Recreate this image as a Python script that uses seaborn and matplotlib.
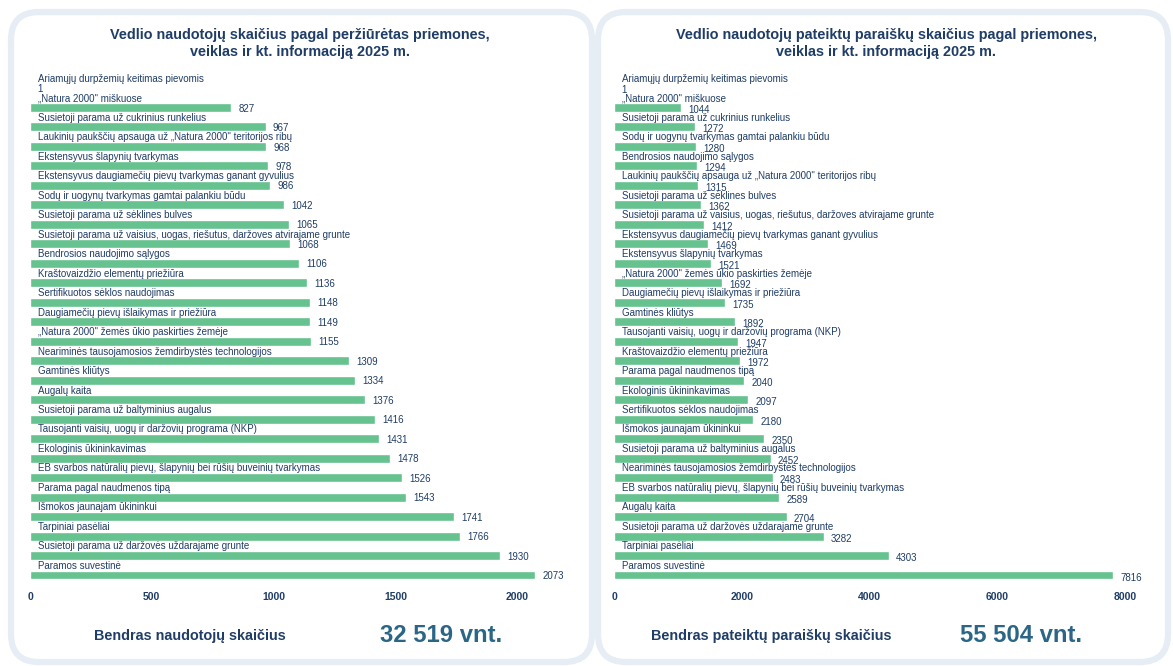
import matplotlib
matplotlib.use("Agg")
import matplotlib.pyplot as plt
from matplotlib.patches import FancyBboxPatch
import seaborn as sns
import pandas as pd

# --- data ---
left_title = "Vedlio naudotojų skaičius pagal peržiūrėtas priemones,\nveiklas ir kt. informaciją 2025 m."
left_categories = [
    "Ariamųjų durpžemių keitimas pievomis",
    "„Natura 2000\" miškuose",
    "Susietoji parama už cukrinius runkelius",
    "Laukinių paukščių apsauga už „Natura 2000\" teritorijos ribų",
    "Ekstensyvus šlapynių tvarkymas",
    "Ekstensyvus daugiamečių pievų tvarkymas ganant gyvulius",
    "Sodų ir uogynų tvarkymas gamtai palankiu būdu",
    "Susietoji parama už sėklines bulves",
    "Susietoji parama už vaisius, uogas, riešutus, daržoves atvirajame grunte",
    "Bendrosios naudojimo sąlygos",
    "Kraštovaizdžio elementų priežiūra",
    "Sertifikuotos sėklos naudojimas",
    "Daugiamečių pievų išlaikymas ir priežiūra",
    "„Natura 2000\" žemės ūkio paskirties žemėje",
    "Neariminės tausojamosios žemdirbystės technologijos",
    "Gamtinės kliūtys",
    "Augalų kaita",
    "Susietoji parama už baltyminius augalus",
    "Tausojanti vaisių, uogų ir daržovių programa (NKP)",
    "Ekologinis ūkininkavimas",
    "EB svarbos natūralių pievų, šlapynių bei rūšių buveinių tvarkymas",
    "Parama pagal naudmenos tipą",
    "Išmokos jaunajam ūkininkui",
    "Tarpiniai pasėliai",
    "Susietoji parama už daržovės uždarajame grunte",
    "Paramos suvestinė",
]
left_values = [1, 827, 967, 968, 978, 986, 1042, 1065, 1068, 1106, 1136, 1148, 1149, 1155,
               1309, 1334, 1376, 1416, 1431, 1478, 1526, 1543, 1741, 1766, 1930, 2073]
left_ticks = [0, 500, 1000, 1500, 2000]
left_total_label = "Bendras naudotojų skaičius"
left_total = "32 519 vnt."

right_title = "Vedlio naudotojų pateiktų paraiškų skaičius pagal priemones,\nveiklas ir kt. informaciją 2025 m."
right_categories = [
    "Ariamųjų durpžemių keitimas pievomis",
    "„Natura 2000\" miškuose",
    "Susietoji parama už cukrinius runkelius",
    "Sodų ir uogynų tvarkymas gamtai palankiu būdu",
    "Bendrosios naudojimo sąlygos",
    "Laukinių paukščių apsauga už „Natura 2000\" teritorijos ribų",
    "Susietoji parama už sėklines bulves",
    "Susietoji parama už vaisius, uogas, riešutus, daržoves atvirajame grunte",
    "Ekstensyvus daugiamečių pievų tvarkymas ganant gyvulius",
    "Ekstensyvus šlapynių tvarkymas",
    "„Natura 2000\" žemės ūkio paskirties žemėje",
    "Daugiamečių pievų išlaikymas ir priežiūra",
    "Gamtinės kliūtys",
    "Tausojanti vaisių, uogų ir daržovių programa (NKP)",
    "Kraštovaizdžio elementų priežiūra",
    "Parama pagal naudmenos tipą",
    "Ekologinis ūkininkavimas",
    "Sertifikuotos sėklos naudojimas",
    "Išmokos jaunajam ūkininkui",
    "Susietoji parama už baltyminius augalus",
    "Neariminės tausojamosios žemdirbystės technologijos",
    "EB svarbos natūralių pievų, šlapynių bei rūšių buveinių tvarkymas",
    "Augalų kaita",
    "Susietoji parama už daržovės uždarajame grunte",
    "Tarpiniai pasėliai",
    "Paramos suvestinė",
]
right_values = [1, 1044, 1272, 1280, 1294, 1315, 1362, 1412, 1469, 1521, 1692, 1735, 1892,
                1947, 1972, 2040, 2097, 2180, 2350, 2452, 2483, 2589, 2704, 3282, 4303, 7816]
right_ticks = [0, 2000, 4000, 6000, 8000]
right_total_label = "Bendras pateiktų paraiškų skaičius"
right_total = "55 504 vnt."

# --- style ---
BAR_COLOR = "#66c28e"
NAVY = "#1f3d66"
TEAL = "#2b6686"
BORDER = "#e7edf5"

sns.set_theme(style="white")
plt.rcParams["font.family"] = ["Liberation Sans", "DejaVu Sans"]

W, H = 1173, 666
fig = plt.figure(figsize=(W / 100, H / 100), dpi=100, facecolor="white")

# background with the two cards (pixel coordinates)
bg = fig.add_axes([0, 0, 1, 1])
bg.set_xlim(0, W)
bg.set_ylim(H, 0)
bg.axis("off")
for x0, x1 in [(11, 592), (598, 1168)]:
    bg.add_patch(FancyBboxPatch((x0 + 28, 12 + 28), x1 - x0 - 56, 650 - 56,
                                boxstyle="round,pad=28", facecolor="white",
                                edgecolor=BORDER, linewidth=4.5))


def draw_panel(rect, cats, vals, ticks, xmax, title, title_x,
               total_label, total, label_x, total_x, val_dy):
    ax = fig.add_axes(rect)
    df = pd.DataFrame({"cat": cats, "val": vals})
    sns.barplot(data=df, x="val", y="cat", orient="h", color=BAR_COLOR,
                width=0.46, ax=ax, saturation=1)
    ax.set_xlim(0, xmax)
    ax.set_ylim(len(cats) - 0.4, -1.0)
    ax.set_yticks([])
    ax.set_xticks(ticks)
    ax.set_xticklabels([str(t) for t in ticks], fontsize=7.5, fontweight="bold", color=NAVY)
    ax.tick_params(axis="x", length=0, pad=4)
    ax.set_xlabel("")
    ax.set_ylabel("")
    ax.set_facecolor("none")
    sns.despine(ax=ax, left=True, bottom=True)
    for i, (c, v) in enumerate(zip(cats, vals)):
        ax.annotate(c, xy=(0, i), xytext=(5.4, 6.6), textcoords="offset points",
                    ha="left", va="center", fontsize=7.0, color=NAVY, clip_on=False)
        ax.annotate(str(v), xy=(v, i), xytext=(5.2, val_dy), textcoords="offset points",
                    ha="left", va="center", fontsize=7.0, color=NAVY, clip_on=False)

    bg.text(title_x, 43.5, title, ha="center", va="center", fontsize=10.4,
            fontweight="bold", color=NAVY, linespacing=1.2)
    bg.text(label_x, 636, total_label, ha="center", va="center", fontsize=10.4,
            fontweight="bold", color=NAVY)
    bg.text(total_x, 635, total, ha="center", va="center", fontsize=17.2,
            fontweight="bold", color=TEAL)
    return ax


ax_bottom = (H - 586.7) / H
ax_height = (586.7 - 68.5) / H

draw_panel([30 / W, ax_bottom, 530 / W, ax_height], left_categories, left_values,
           left_ticks, 530 / 0.2436, left_title, 300, left_total_label, left_total,
           190, 441, -0.8)
draw_panel([614 / W, ax_bottom, 511 / W, ax_height], right_categories, right_values,
           right_ticks, 8000, right_title, 886, right_total_label, right_total,
           771, 1021, -1.8)

fig.savefig("out.png", dpi=100, facecolor="white")
